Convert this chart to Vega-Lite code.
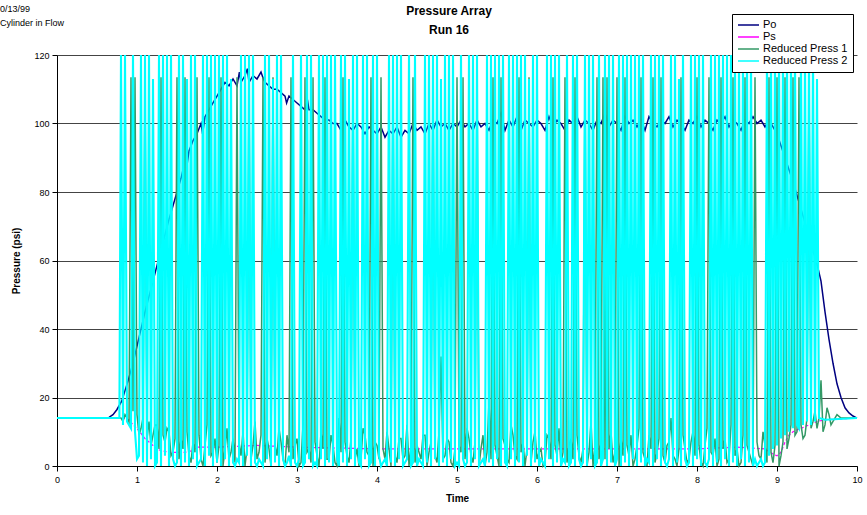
{
"$schema": "https://vega.github.io/schema/vega-lite/v6.json",
"width": 800, "height": 411,
"autosize": {"type": "none"},
"padding": {"left": 57, "top": 55, "right": 10, "bottom": 49},
"background": "white",
"config": {
 "font": "Liberation Sans",
 "view": {"stroke": null},
 "axis": {"domainColor": "#000", "tickColor": "#000", "labelColor": "#000", "labelFont": "Liberation Sans", "labelFontSize": 9, "titleFont": "Liberation Sans", "titleFontSize": 10, "titleFontWeight": "bold", "titleColor": "#000", "tickSize": 5, "grid": false}
},
"datasets": {
 "po": [{"t":0,"v":14},{"t":0.6,"v":14},{"t":0.65,"v":14.2},{"t":0.7,"v":15},{"t":0.75,"v":16.5},{"t":0.81,"v":19},{"t":0.85,"v":22},{"t":0.89,"v":25},{"t":0.95,"v":30},{"t":1.0,"v":35},{"t":1.1,"v":45},{"t":1.2,"v":54},{"t":1.3,"v":63},{"t":1.4,"v":72},{"t":1.5,"v":80},{"t":1.55,"v":84},{"t":1.6,"v":89},{"t":1.62,"v":87},{"t":1.65,"v":92},{"t":1.7,"v":95},{"t":1.75,"v":97},{"t":1.8,"v":100},{"t":1.82,"v":97},{"t":1.85,"v":102},{"t":1.9,"v":104},{"t":1.95,"v":106},{"t":2.0,"v":108},{"t":2.05,"v":110},{"t":2.1,"v":112},{"t":2.15,"v":111},{"t":2.2,"v":113},{"t":2.25,"v":111},{"t":2.28,"v":115},{"t":2.3,"v":112},{"t":2.35,"v":114},{"t":2.38,"v":116},{"t":2.4,"v":112},{"t":2.45,"v":114},{"t":2.5,"v":113},{"t":2.55,"v":115},{"t":2.58,"v":113},{"t":2.6,"v":112},{"t":2.65,"v":111},{"t":2.7,"v":110},{"t":2.75,"v":110},{"t":2.8,"v":109},{"t":2.85,"v":108},{"t":2.87,"v":106},{"t":2.9,"v":108},{"t":2.95,"v":107},{"t":3.0,"v":106},{"t":3.05,"v":105},{"t":3.1,"v":104},{"t":3.13,"v":107},{"t":3.15,"v":104},{"t":3.2,"v":104},{"t":3.25,"v":103},{"t":3.3,"v":102},{"t":3.35,"v":101},{"t":3.4,"v":101},{"t":3.45,"v":100},{"t":3.5,"v":100},{"t":3.55,"v":98},{"t":3.6,"v":101},{"t":3.65,"v":99},{"t":3.7,"v":98},{"t":3.75,"v":100},{"t":3.8,"v":99},{"t":3.85,"v":97},{"t":3.9,"v":99},{"t":3.95,"v":98},
 {"t":4.0,"v":97},{"t":4.05,"v":99},{"t":4.1,"v":96},{"t":4.15,"v":98},{"t":4.2,"v":97},{"t":4.25,"v":99},{"t":4.3,"v":96},{"t":4.35,"v":98},{"t":4.4,"v":97},{"t":4.45,"v":100},{"t":4.5,"v":98},{"t":4.55,"v":99},{"t":4.6,"v":97},{"t":4.65,"v":100},{"t":4.7,"v":98},{"t":4.75,"v":101},{"t":4.8,"v":99},{"t":4.85,"v":100},{"t":4.9,"v":98},{"t":4.95,"v":100},{"t":5.0,"v":99},{"t":5.05,"v":101},{"t":5.1,"v":99},{"t":5.15,"v":100},{"t":5.2,"v":98},{"t":5.25,"v":101},{"t":5.3,"v":99},{"t":5.35,"v":100},{"t":5.4,"v":98},{"t":5.45,"v":101},{"t":5.5,"v":100},{"t":5.55,"v":103},{"t":5.6,"v":98},{"t":5.65,"v":101},{"t":5.7,"v":99},{"t":5.75,"v":102},{"t":5.8,"v":98},{"t":5.85,"v":101},{"t":5.9,"v":100},{"t":5.95,"v":99},{"t":6.0,"v":101},{"t":6.05,"v":100},{"t":6.1,"v":98},{"t":6.15,"v":102},{"t":6.2,"v":99},{"t":6.25,"v":101},{"t":6.3,"v":100},{"t":6.35,"v":98},{"t":6.4,"v":101},{"t":6.45,"v":100},{"t":6.5,"v":102},{"t":6.55,"v":99},{"t":6.6,"v":101},{"t":6.65,"v":100},{"t":6.7,"v":98},{"t":6.75,"v":101},{"t":6.8,"v":100},{"t":6.85,"v":103},{"t":6.9,"v":99},{"t":6.95,"v":101},{"t":7.0,"v":100},{"t":7.05,"v":98},{"t":7.1,"v":102},{"t":7.15,"v":100},{"t":7.2,"v":101},{"t":7.25,"v":99},{"t":7.3,"v":101},{"t":7.35,"v":98},{"t":7.4,"v":102},{"t":7.45,"v":100},{"t":7.5,"v":99},{"t":7.55,"v":101},{"t":7.6,"v":100},{"t":7.65,"v":102},{"t":7.7,"v":99},{"t":7.75,"v":101},{"t":7.8,"v":100},{"t":7.85,"v":98},{"t":7.9,"v":101},{"t":7.95,"v":100},{"t":8.0,"v":102},{"t":8.05,"v":99},{"t":8.1,"v":101},{"t":8.15,"v":100},{"t":8.2,"v":98},{"t":8.25,"v":101},{"t":8.3,"v":100},{"t":8.35,"v":102},{"t":8.4,"v":99},{"t":8.45,"v":101},{"t":8.5,"v":100},{"t":8.55,"v":98},{"t":8.6,"v":101},{"t":8.65,"v":100},{"t":8.7,"v":102},{"t":8.75,"v":100},{"t":8.8,"v":101},{"t":8.85,"v":99},{"t":8.9,"v":101},{"t":8.95,"v":99},{"t":9.0,"v":97},{"t":9.1,"v":90},{"t":9.2,"v":83},{"t":9.3,"v":75},{"t":9.4,"v":67},{"t":9.5,"v":59},{"t":9.55,"v":54},{"t":9.6,"v":45},{"t":9.65,"v":37},{"t":9.7,"v":30},{"t":9.75,"v":24},{"t":9.8,"v":20},{"t":9.85,"v":17},{"t":9.9,"v":15.5},{"t":9.95,"v":14.6},{"t":10,"v":14}],
 "ps": [{"t":0,"v":14},{"t":0.85,"v":14},{"t":0.9,"v":13.5},{"t":0.95,"v":12},{"t":1.0,"v":11},{"t":1.05,"v":9.5},{"t":1.1,"v":8},{"t":1.15,"v":7},{"t":1.2,"v":6},{"t":1.25,"v":5},{"t":1.3,"v":4.5},{"t":1.4,"v":4},{"t":1.6,"v":4},{"t":1.7,"v":4.5},{"t":1.75,"v":5.5},{"t":2.0,"v":5.5},{"t":2.5,"v":6},{"t":3.0,"v":5.5},{"t":4.0,"v":5},{"t":5.0,"v":5},{"t":6.0,"v":5},{"t":7.0,"v":5},{"t":8.0,"v":5},{"t":8.5,"v":5.5},{"t":8.85,"v":5},{"t":8.95,"v":3.5},{"t":9.0,"v":3},{"t":9.05,"v":4},{"t":9.1,"v":7},{"t":9.15,"v":9},{"t":9.2,"v":10},{"t":9.3,"v":11},{"t":9.4,"v":12},{"t":9.5,"v":13},{"t":9.6,"v":13.5},{"t":10,"v":14}],
 "r1": [{"t":0,"v":14},{"t":0.8,"v":14},{"t":0.825,"v":13},{"t":0.85,"v":15},{"t":0.875,"v":14},{"t":0.9,"v":12},{"t":0.925,"v":113.5},{"t":0.95,"v":16},{"t":0.975,"v":113.5},{"t":1.0,"v":15},{"t":1.025,"v":9},{"t":1.05,"v":11},{"t":1.075,"v":14},{"t":1.1,"v":113.5},{"t":1.125,"v":8},{"t":1.15,"v":13},{"t":1.175,"v":6},{"t":1.2,"v":9},{"t":1.225,"v":12},{"t":1.25,"v":12},{"t":1.275,"v":5},{"t":1.3,"v":113.5},{"t":1.325,"v":9},{"t":1.35,"v":7},{"t":1.375,"v":11},{"t":1.4,"v":10},{"t":1.425,"v":3},{"t":1.45,"v":4},{"t":1.475,"v":8},{"t":1.5,"v":113.5},{"t":1.525,"v":2},{"t":1.55,"v":8},{"t":1.575,"v":5},{"t":1.6,"v":113.5},{"t":1.625,"v":10},{"t":1.65,"v":3},{"t":1.675,"v":1},{"t":1.7,"v":7},{"t":1.725,"v":4},{"t":1.75,"v":113.5},{"t":1.775,"v":9},{"t":1.8,"v":2},{"t":1.825,"v":0},{"t":1.85,"v":6},{"t":1.875,"v":12},{"t":1.9,"v":113.5},{"t":1.925,"v":3},{"t":1.95,"v":4},{"t":1.975,"v":8},{"t":2.0,"v":1},{"t":2.025,"v":6},{"t":2.05,"v":113.5},{"t":2.075,"v":0},{"t":2.1,"v":5},{"t":2.125,"v":11},{"t":2.15,"v":2},{"t":2.175,"v":4},{"t":2.2,"v":8},{"t":2.225,"v":1},{"t":2.25,"v":113.5},{"t":2.275,"v":7},{"t":2.3,"v":3},{"t":2.325,"v":10},{"t":2.35,"v":0},{"t":2.375,"v":5},{"t":2.4,"v":113.5},{"t":2.425,"v":2},{"t":2.45,"v":6},{"t":2.475,"v":13},{"t":2.5,"v":2},{"t":2.525,"v":4},{"t":2.55,"v":9},{"t":2.575,"v":113.5},{"t":2.6,"v":1},{"t":2.625,"v":8},{"t":2.65,"v":5},{"t":2.675,"v":0},{"t":2.7,"v":113.5},{"t":2.725,"v":6},{"t":2.75,"v":3},{"t":2.775,"v":11},{"t":2.8,"v":7},{"t":2.825,"v":2},{"t":2.85,"v":0},{"t":2.875,"v":9},{"t":2.9,"v":4},{"t":2.925,"v":113.5},{"t":2.95,"v":2},{"t":2.975,"v":6},{"t":3.0,"v":8},{"t":3.025,"v":0},{"t":3.05,"v":1},{"t":3.075,"v":12},{"t":3.1,"v":113.5},{"t":3.125,"v":4},{"t":3.15,"v":5},{"t":3.175,"v":1},{"t":3.2,"v":113.5},{"t":3.225,"v":7},{"t":3.25,"v":3},{"t":3.275,"v":0},{"t":3.3,"v":10},{"t":3.325,"v":5},{"t":3.35,"v":113.5},{"t":3.375,"v":2},{"t":3.4,"v":2},{"t":3.425,"v":9},{"t":3.45,"v":6},{"t":3.475,"v":1},{"t":3.5,"v":0},{"t":3.525,"v":14},{"t":3.55,"v":4},{"t":3.575,"v":113.5},{"t":3.6,"v":7},{"t":3.625,"v":3},{"t":3.65,"v":1},{"t":3.675,"v":8},{"t":3.7,"v":113.5},{"t":3.725,"v":2},{"t":3.75,"v":5},{"t":3.775,"v":0},{"t":3.8,"v":2},{"t":3.825,"v":11},{"t":3.85,"v":9},{"t":3.875,"v":4},{"t":3.9,"v":3},{"t":3.925,"v":113.5},{"t":3.95,"v":0},{"t":3.975,"v":7},{"t":4.0,"v":6},{"t":4.025,"v":2},{"t":4.05,"v":113.5},{"t":4.075,"v":5},{"t":4.1,"v":2},{"t":4.125,"v":10},{"t":4.15,"v":5},{"t":4.175,"v":0},{"t":4.2,"v":113.5},{"t":4.225,"v":3},{"t":4.25,"v":1},{"t":4.275,"v":8},{"t":4.3,"v":8},{"t":4.325,"v":2},{"t":4.35,"v":3},{"t":4.375,"v":12},{"t":4.4,"v":0},{"t":4.425,"v":6},{"t":4.45,"v":113.5},{"t":4.475,"v":1},{"t":4.5,"v":6},{"t":4.525,"v":4},{"t":4.55,"v":2},{"t":4.575,"v":9},{"t":4.6,"v":9},{"t":4.625,"v":0},{"t":4.65,"v":4},{"t":4.675,"v":7},{"t":4.7,"v":113.5},{"t":4.725,"v":3},{"t":4.75,"v":1},{"t":4.775,"v":10},{"t":4.8,"v":32},{"t":4.825,"v":2},{"t":4.85,"v":3},{"t":4.875,"v":8},{"t":4.9,"v":7},{"t":4.925,"v":1},{"t":4.95,"v":0},{"t":4.975,"v":5},{"t":5.0,"v":113.5},{"t":5.025,"v":6},{"t":5.05,"v":4},{"t":5.075,"v":113.5},{"t":5.1,"v":2},{"t":5.125,"v":11},{"t":5.15,"v":8},{"t":5.175,"v":3},{"t":5.2,"v":1},{"t":5.225,"v":7},{"t":5.25,"v":113.5},{"t":5.275,"v":0},{"t":5.3,"v":5},{"t":5.325,"v":9},{"t":5.35,"v":0},{"t":5.375,"v":4},{"t":5.4,"v":19},{"t":5.425,"v":2},{"t":5.45,"v":113.5},{"t":5.475,"v":6},{"t":5.5,"v":3},{"t":5.525,"v":0},{"t":5.55,"v":113.5},{"t":5.575,"v":8},{"t":5.6,"v":6},{"t":5.625,"v":2},{"t":5.65,"v":1},{"t":5.675,"v":12},{"t":5.7,"v":9},{"t":5.725,"v":3},{"t":5.75,"v":2},{"t":5.775,"v":113.5},{"t":5.8,"v":4},{"t":5.825,"v":7},{"t":5.85,"v":0},{"t":5.875,"v":5},{"t":5.9,"v":113.5},{"t":5.925,"v":1},{"t":5.95,"v":7},{"t":5.975,"v":10},{"t":6.0,"v":2},{"t":6.025,"v":4},{"t":6.05,"v":5},{"t":6.075,"v":0},{"t":6.1,"v":1},{"t":6.125,"v":9},{"t":6.15,"v":8},{"t":6.175,"v":2},{"t":6.2,"v":113.5},{"t":6.225,"v":6},{"t":6.25,"v":3},{"t":6.275,"v":11},{"t":6.3,"v":0},{"t":6.325,"v":4},{"t":6.35,"v":113.5},{"t":6.375,"v":1},{"t":6.4,"v":6},{"t":6.425,"v":8},{"t":6.45,"v":2},{"t":6.475,"v":113.5},{"t":6.5,"v":9},{"t":6.525,"v":3},{"t":6.55,"v":1},{"t":6.575,"v":5},{"t":6.6,"v":113.5},{"t":6.625,"v":0},{"t":6.65,"v":4},{"t":6.675,"v":13},{"t":6.7,"v":0},{"t":6.725,"v":6},{"t":6.75,"v":113.5},{"t":6.775,"v":2},{"t":6.8,"v":7},{"t":6.825,"v":113.5},{"t":6.85,"v":2},{"t":6.875,"v":113.5},{"t":6.9,"v":5},{"t":6.925,"v":10},{"t":6.95,"v":1},{"t":6.975,"v":4},{"t":7.0,"v":113.5},{"t":7.025,"v":0},{"t":7.05,"v":8},{"t":7.075,"v":3},{"t":7.1,"v":113.5},{"t":7.125,"v":6},{"t":7.15,"v":3},{"t":7.175,"v":9},{"t":7.2,"v":0},{"t":7.225,"v":2},{"t":7.25,"v":6},{"t":7.275,"v":11},{"t":7.3,"v":113.5},{"t":7.325,"v":4},{"t":7.35,"v":2},{"t":7.375,"v":0},{"t":7.4,"v":9},{"t":7.425,"v":5},{"t":7.45,"v":113.5},{"t":7.475,"v":1},{"t":7.5,"v":4},{"t":7.525,"v":8},{"t":7.55,"v":113.5},{"t":7.575,"v":3},{"t":7.6,"v":1},{"t":7.625,"v":6},{"t":7.65,"v":7},{"t":7.675,"v":14},{"t":7.7,"v":3},{"t":7.725,"v":2},{"t":7.75,"v":0},{"t":7.775,"v":5},{"t":7.8,"v":113.5},{"t":7.825,"v":9},{"t":7.85,"v":5},{"t":7.875,"v":1},{"t":7.9,"v":2},{"t":7.925,"v":7},{"t":7.95,"v":10},{"t":7.975,"v":3},{"t":8.0,"v":113.5},{"t":8.025,"v":6},{"t":8.05,"v":1},{"t":8.075,"v":0},{"t":8.1,"v":6},{"t":8.125,"v":11},{"t":8.15,"v":113.5},{"t":8.175,"v":4},{"t":8.2,"v":3},{"t":8.225,"v":8},{"t":8.25,"v":0},{"t":8.275,"v":2},{"t":8.3,"v":113.5},{"t":8.325,"v":5},{"t":8.35,"v":8},{"t":8.375,"v":1},{"t":8.4,"v":2},{"t":8.425,"v":12},{"t":8.45,"v":113.5},{"t":8.475,"v":3},{"t":8.5,"v":5},{"t":8.525,"v":0},{"t":8.55,"v":1},{"t":8.575,"v":9},{"t":8.6,"v":113.5},{"t":8.625,"v":6},{"t":8.65,"v":4},{"t":8.675,"v":2},{"t":8.7,"v":0},{"t":8.725,"v":113.5},{"t":8.75,"v":7},{"t":8.775,"v":3},{"t":8.8,"v":2},{"t":8.825,"v":10},{"t":8.85,"v":6},{"t":8.875,"v":1},{"t":8.9,"v":113.5},{"t":8.925,"v":4},{"t":8.95,"v":1},{"t":8.975,"v":6},{"t":9.0,"v":113.5},{"t":9.025,"v":0},{"t":9.05,"v":3},{"t":9.075,"v":7},{"t":9.1,"v":113.5},{"t":9.125,"v":5},{"t":9.15,"v":8},{"t":9.175,"v":12},{"t":9.2,"v":113.5},{"t":9.225,"v":9},{"t":9.25,"v":10},{"t":9.275,"v":113.5},{"t":9.3,"v":12},{"t":9.325,"v":8},{"t":9.35,"v":9},{"t":9.375,"v":14},{"t":9.4,"v":113.5},{"t":9.425,"v":11},{"t":9.45,"v":13},{"t":9.475,"v":16},{"t":9.5,"v":11},{"t":9.525,"v":14},{"t":9.55,"v":25},{"t":9.575,"v":10},{"t":9.6,"v":12},{"t":9.625,"v":17},{"t":9.65,"v":15},{"t":9.675,"v":12},{"t":9.7,"v":13},{"t":9.75,"v":15},{"t":9.8,"v":14},{"t":10,"v":14}],
 "r2": [{"t":0,"v":14},{"t":0.78,"v":14},{"t":0.8,"v":120},{"t":0.825,"v":12},{"t":0.85,"v":120},{"t":0.875,"v":13},{"t":0.9,"v":12},{"t":0.925,"v":11},{"t":0.95,"v":120},{"t":0.975,"v":10},{"t":1.0,"v":2},{"t":1.025,"v":3},{"t":1.05,"v":120},{"t":1.075,"v":1},{"t":1.1,"v":120},{"t":1.125,"v":0},{"t":1.15,"v":120},{"t":1.175,"v":2},{"t":1.2,"v":113},{"t":1.225,"v":0},{"t":1.25,"v":1},{"t":1.275,"v":120},{"t":1.3,"v":0},{"t":1.325,"v":120},{"t":1.35,"v":3},{"t":1.375,"v":120},{"t":1.4,"v":0},{"t":1.425,"v":120},{"t":1.45,"v":2},{"t":1.475,"v":0},{"t":1.5,"v":1},{"t":1.525,"v":120},{"t":1.55,"v":0},{"t":1.575,"v":120},{"t":1.6,"v":1},{"t":1.625,"v":113},{"t":1.65,"v":0},{"t":1.675,"v":120},{"t":1.7,"v":2},{"t":1.725,"v":120},{"t":1.75,"v":0},{"t":1.775,"v":1},{"t":1.8,"v":2},{"t":1.825,"v":120},{"t":1.85,"v":0},{"t":1.875,"v":120},{"t":1.9,"v":3},{"t":1.925,"v":120},{"t":1.95,"v":0},{"t":1.975,"v":120},{"t":2.0,"v":1},{"t":2.025,"v":120},{"t":2.05,"v":0},{"t":2.075,"v":120},{"t":2.1,"v":2},{"t":2.125,"v":120},{"t":2.15,"v":0},{"t":2.175,"v":113},{"t":2.2,"v":1},{"t":2.225,"v":0},{"t":2.25,"v":2},{"t":2.275,"v":1},{"t":2.3,"v":120},{"t":2.325,"v":0},{"t":2.35,"v":120},{"t":2.375,"v":3},{"t":2.4,"v":120},{"t":2.425,"v":0},{"t":2.45,"v":120},{"t":2.475,"v":1},{"t":2.5,"v":0},{"t":2.525,"v":2},{"t":2.55,"v":1},{"t":2.575,"v":0},{"t":2.6,"v":120},{"t":2.625,"v":2},{"t":2.65,"v":120},{"t":2.675,"v":0},{"t":2.7,"v":113},{"t":2.725,"v":1},{"t":2.75,"v":120},{"t":2.775,"v":0},{"t":2.8,"v":120},{"t":2.825,"v":2},{"t":2.85,"v":0},{"t":2.875,"v":1},{"t":2.9,"v":3},{"t":2.925,"v":0},{"t":2.95,"v":120},{"t":2.975,"v":1},{"t":3.0,"v":0},{"t":3.025,"v":2},{"t":3.05,"v":120},{"t":3.075,"v":0},{"t":3.1,"v":1},{"t":3.125,"v":120},{"t":3.15,"v":2},{"t":3.175,"v":120},{"t":3.2,"v":0},{"t":3.225,"v":1},{"t":3.25,"v":0},{"t":3.275,"v":120},{"t":3.3,"v":2},{"t":3.325,"v":120},{"t":3.35,"v":0},{"t":3.375,"v":120},{"t":3.4,"v":1},{"t":3.425,"v":120},{"t":3.45,"v":0},{"t":3.475,"v":120},{"t":3.5,"v":2},{"t":3.525,"v":0},{"t":3.55,"v":120},{"t":3.575,"v":1},{"t":3.6,"v":120},{"t":3.625,"v":0},{"t":3.65,"v":113},{"t":3.675,"v":2},{"t":3.7,"v":120},{"t":3.725,"v":0},{"t":3.75,"v":120},{"t":3.775,"v":1},{"t":3.8,"v":0},{"t":3.825,"v":120},{"t":3.85,"v":2},{"t":3.875,"v":120},{"t":3.9,"v":0},{"t":3.925,"v":1},{"t":3.95,"v":120},{"t":3.975,"v":0},{"t":4.0,"v":120},{"t":4.025,"v":3},{"t":4.05,"v":0},{"t":4.075,"v":1},{"t":4.1,"v":2},{"t":4.125,"v":0},{"t":4.15,"v":120},{"t":4.175,"v":1},{"t":4.2,"v":120},{"t":4.225,"v":0},{"t":4.25,"v":120},{"t":4.275,"v":2},{"t":4.3,"v":120},{"t":4.325,"v":0},{"t":4.35,"v":1},{"t":4.375,"v":2},{"t":4.4,"v":120},{"t":4.425,"v":0},{"t":4.45,"v":1},{"t":4.475,"v":120},{"t":4.5,"v":0},{"t":4.525,"v":2},{"t":4.55,"v":1},{"t":4.575,"v":0},{"t":4.6,"v":120},{"t":4.625,"v":1},{"t":4.65,"v":120},{"t":4.675,"v":0},{"t":4.7,"v":120},{"t":4.725,"v":2},{"t":4.75,"v":120},{"t":4.775,"v":0},{"t":4.8,"v":113},{"t":4.825,"v":1},{"t":4.85,"v":120},{"t":4.875,"v":0},{"t":4.9,"v":120},{"t":4.925,"v":2},{"t":4.95,"v":120},{"t":4.975,"v":0},{"t":5.0,"v":1},{"t":5.025,"v":0},{"t":5.05,"v":120},{"t":5.075,"v":2},{"t":5.1,"v":0},{"t":5.125,"v":1},{"t":5.15,"v":120},{"t":5.175,"v":0},{"t":5.2,"v":120},{"t":5.225,"v":2},{"t":5.25,"v":120},{"t":5.275,"v":0},{"t":5.3,"v":1},{"t":5.325,"v":2},{"t":5.35,"v":0},{"t":5.375,"v":120},{"t":5.4,"v":1},{"t":5.425,"v":120},{"t":5.45,"v":0},{"t":5.475,"v":120},{"t":5.5,"v":2},{"t":5.525,"v":120},{"t":5.55,"v":0},{"t":5.575,"v":120},{"t":5.6,"v":1},{"t":5.625,"v":0},{"t":5.65,"v":120},{"t":5.675,"v":2},{"t":5.7,"v":120},{"t":5.725,"v":0},{"t":5.75,"v":120},{"t":5.775,"v":1},{"t":5.8,"v":120},{"t":5.825,"v":0},{"t":5.85,"v":120},{"t":5.875,"v":3},{"t":5.9,"v":113},{"t":5.925,"v":0},{"t":5.95,"v":120},{"t":5.975,"v":1},{"t":6.0,"v":120},{"t":6.025,"v":0},{"t":6.05,"v":2},{"t":6.075,"v":1},{"t":6.1,"v":0},{"t":6.125,"v":120},{"t":6.15,"v":2},{"t":6.175,"v":120},{"t":6.2,"v":0},{"t":6.225,"v":120},{"t":6.25,"v":1},{"t":6.275,"v":120},{"t":6.3,"v":0},{"t":6.325,"v":2},{"t":6.35,"v":1},{"t":6.375,"v":120},{"t":6.4,"v":0},{"t":6.425,"v":1},{"t":6.45,"v":120},{"t":6.475,"v":0},{"t":6.5,"v":120},{"t":6.525,"v":2},{"t":6.55,"v":0},{"t":6.575,"v":1},{"t":6.6,"v":120},{"t":6.625,"v":0},{"t":6.65,"v":120},{"t":6.675,"v":2},{"t":6.7,"v":120},{"t":6.725,"v":0},{"t":6.75,"v":1},{"t":6.775,"v":120},{"t":6.8,"v":0},{"t":6.825,"v":2},{"t":6.85,"v":120},{"t":6.875,"v":0},{"t":6.9,"v":120},{"t":6.925,"v":1},{"t":6.95,"v":120},{"t":6.975,"v":0},{"t":7.0,"v":2},{"t":7.025,"v":120},{"t":7.05,"v":0},{"t":7.075,"v":120},{"t":7.1,"v":1},{"t":7.125,"v":120},{"t":7.15,"v":0},{"t":7.175,"v":120},{"t":7.2,"v":2},{"t":7.225,"v":120},{"t":7.25,"v":0},{"t":7.275,"v":120},{"t":7.3,"v":1},{"t":7.325,"v":120},{"t":7.35,"v":0},{"t":7.375,"v":2},{"t":7.4,"v":1},{"t":7.425,"v":120},{"t":7.45,"v":0},{"t":7.475,"v":120},{"t":7.5,"v":2},{"t":7.525,"v":120},{"t":7.55,"v":0},{"t":7.575,"v":120},{"t":7.6,"v":1},{"t":7.625,"v":0},{"t":7.65,"v":2},{"t":7.675,"v":120},{"t":7.7,"v":0},{"t":7.725,"v":120},{"t":7.75,"v":1},{"t":7.775,"v":113},{"t":7.8,"v":0},{"t":7.825,"v":120},{"t":7.85,"v":2},{"t":7.875,"v":0},{"t":7.9,"v":1},{"t":7.925,"v":120},{"t":7.95,"v":0},{"t":7.975,"v":120},{"t":8.0,"v":2},{"t":8.025,"v":120},{"t":8.05,"v":0},{"t":8.075,"v":120},{"t":8.1,"v":1},{"t":8.125,"v":0},{"t":8.15,"v":2},{"t":8.175,"v":120},{"t":8.2,"v":0},{"t":8.225,"v":120},{"t":8.25,"v":1},{"t":8.275,"v":120},{"t":8.3,"v":0},{"t":8.325,"v":120},{"t":8.35,"v":2},{"t":8.375,"v":120},{"t":8.4,"v":0},{"t":8.425,"v":120},{"t":8.45,"v":1},{"t":8.475,"v":120},{"t":8.5,"v":0},{"t":8.525,"v":120},{"t":8.55,"v":2},{"t":8.575,"v":120},{"t":8.6,"v":0},{"t":8.625,"v":120},{"t":8.65,"v":1},{"t":8.675,"v":120},{"t":8.7,"v":0},{"t":8.725,"v":2},{"t":8.75,"v":0},{"t":8.775,"v":1},{"t":8.8,"v":2},{"t":8.825,"v":0},{"t":8.85,"v":1},{"t":8.875,"v":120},{"t":8.9,"v":3},{"t":8.925,"v":120},{"t":8.95,"v":5},{"t":8.975,"v":120},{"t":9.0,"v":6},{"t":9.025,"v":120},{"t":9.05,"v":8},{"t":9.075,"v":120},{"t":9.1,"v":9},{"t":9.125,"v":120},{"t":9.15,"v":10},{"t":9.175,"v":120},{"t":9.2,"v":11},{"t":9.225,"v":120},{"t":9.25,"v":12},{"t":9.275,"v":11},{"t":9.3,"v":120},{"t":9.325,"v":12},{"t":9.35,"v":120},{"t":9.375,"v":13},{"t":9.4,"v":120},{"t":9.425,"v":12},{"t":9.45,"v":120},{"t":9.475,"v":13},{"t":9.5,"v":113},{"t":9.525,"v":14},{"t":9.6,"v":13.5},{"t":10,"v":14}]
},
"layer": [
 {
  "encoding": {
   "x": {"field": "t", "type": "quantitative", "scale": {"domain": [0, 10], "nice": false, "zero": false}, "axis": {"title": "Time", "values": [0,1,2,3,4,5,6,7,8,9,10], "format": "d", "labelPadding": 4, "titlePadding": 9, "labelFlush": false}},
   "y": {"field": "v", "type": "quantitative", "scale": {"domain": [0, 120], "nice": false}, "axis": {"title": "Pressure (psi)", "values": [0,20,40,60,80,100,120], "grid": true, "gridColor": "#444", "gridWidth": 1, "labelPadding": 3, "titlePadding": 12}}
  },
  "layer": [
   {"data": {"name": "po"}, "mark": {"type": "line", "strokeWidth": 1.5},
    "encoding": {"color": {"datum": "Po", "scale": {"domain": ["Po", "Ps", "Reduced Press 1", "Reduced Press 2"], "range": ["#000080", "#FF00FF", "#339966", "#00FFFF"]},
     "legend": {"orient": "none", "legendX": 675, "legendY": -41, "title": null, "strokeColor": "#000", "fillColor": "#fff", "padding": 5, "labelFontSize": 11, "labelFont": "Liberation Sans", "labelColor": "#000", "symbolType": "stroke", "symbolSize": 441, "symbolStrokeWidth": 1.5, "rowPadding": 0, "clipHeight": 12, "labelOffset": 3, "cornerRadius": 0}}}},
   {"data": {"name": "ps"}, "mark": {"type": "line", "strokeWidth": 1.2, "strokeDash": [3, 2]}, "encoding": {"color": {"datum": "Ps"}}},
   {"data": {"name": "r1"}, "mark": {"type": "line", "strokeWidth": 1.5}, "encoding": {"color": {"datum": "Reduced Press 1"}}},
   {"data": {"name": "r2"}, "mark": {"type": "line", "strokeWidth": 2.1}, "encoding": {"color": {"datum": "Reduced Press 2"}}}
  ]
 },
 {"data": {"values": [{"label": "Pressure Array"}]}, "mark": {"type": "text", "align": "center", "baseline": "alphabetic", "fontSize": 12, "fontWeight": "bold", "font": "Liberation Sans", "color": "#000"}, "encoding": {"text": {"field": "label"}, "x": {"datum": 4.9, "type": "quantitative"}, "y": {"datum": 131.7, "type": "quantitative"}}},
 {"data": {"values": [{"label": "Run 16"}]}, "mark": {"type": "text", "align": "center", "baseline": "alphabetic", "fontSize": 12, "fontWeight": "bold", "font": "Liberation Sans", "color": "#000"}, "encoding": {"text": {"field": "label"}, "x": {"datum": 4.9, "type": "quantitative"}, "y": {"datum": 126.1, "type": "quantitative"}}},
 {"data": {"values": [{"label": "0/13/99"}]}, "mark": {"type": "text", "align": "left", "baseline": "alphabetic", "fontSize": 9, "font": "Liberation Sans", "color": "#000"}, "encoding": {"text": {"field": "label"}, "x": {"datum": -0.7125, "type": "quantitative"}, "y": {"datum": 132.5, "type": "quantitative"}}},
 {"data": {"values": [{"label": "Cylinder in Flow"}]}, "mark": {"type": "text", "align": "left", "baseline": "alphabetic", "fontSize": 9, "font": "Liberation Sans", "color": "#000"}, "encoding": {"text": {"field": "label"}, "x": {"datum": -0.7125, "type": "quantitative"}, "y": {"datum": 128.6, "type": "quantitative"}}}
]
}
